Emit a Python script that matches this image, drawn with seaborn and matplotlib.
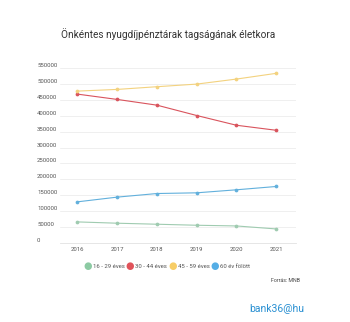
import matplotlib
matplotlib.use("Agg")
import matplotlib.pyplot as plt
import seaborn as sns
import pandas as pd

years = ["2016", "2017", "2018", "2019", "2020", "2021"]
age_16_29 = [66300, 62200, 59000, 55800, 53600, 44200]
age_30_44 = [467900, 451200, 433200, 400700, 370100, 354300]
age_45_59 = [477400, 482700, 491200, 499400, 515200, 533200]
age_60_plus = [129400, 144200, 155500, 157700, 167200, 177600]
series_names = ["16 - 29 éves", "30 - 44 éves", "45 - 59 éves", "60 év fölött"]
y_ticks = [0, 50000, 100000, 150000, 200000, 250000, 300000,
           350000, 400000, 450000, 500000, 550000]

title = "Önkéntes nyugdíjpénztárak tagságának életkora"
source = "Forrás: MNB"
logo = "bank36@hu"

line_colors = ["#9fcbb0", "#d9545d", "#f3d27f", "#62b0dc"]
legend_colors = ["#8ccaa3", "#e0535a", "#f7cd66", "#55aee6"]

df = pd.DataFrame({
    "year": years * 4,
    "value": age_16_29 + age_30_44 + age_45_59 + age_60_plus,
    "group": sum([[n] * len(years) for n in series_names], []),
})

sns.set_theme(style="white")
plt.rcParams["font.family"] = ["Roboto", "DejaVu Sans"]

fig = plt.figure(figsize=(3.5, 3.22), dpi=100)
ax = fig.add_axes([60 / 350, 1 - 243 / 322, 236 / 350, 175 / 322])

sns.lineplot(data=df, x="year", y="value", hue="group", palette=line_colors,
             marker="o", markersize=2.7, markeredgewidth=0, linewidth=0.8,
             legend=False, ax=ax, sort=False)

ax.set_xlim(-0.44, 5.5)
ax.set_ylim(0, 550000)
ax.set_yticks(y_ticks)
ax.set_yticklabels([str(v) for v in y_ticks])
ax.set_xlabel("")
ax.set_ylabel("")
ax.grid(axis="y", color="#ececec", linewidth=0.6)
ax.set_axisbelow(True)
for side in ["top", "right", "left"]:
    ax.spines[side].set_visible(False)
ax.spines["bottom"].set_color("#e2e2e2")
ax.spines["bottom"].set_linewidth(0.6)
ax.tick_params(axis="both", length=0, labelsize=4.3, colors="#555555")
ax.tick_params(axis="y", pad=16.5)
ax.tick_params(axis="x", pad=3)
for lbl in ax.get_yticklabels():
    lbl.set_horizontalalignment("left")
    lbl.set_verticalalignment("bottom")

fig.text(168 / 350, 1 - 34 / 322, title, ha="center", va="center",
         fontsize=7.2, color="#333333")

# legend row under the axis
leg_x = [88, 130, 173, 215]
for x, name, col in zip(leg_x, series_names, legend_colors):
    fig.text(x / 350, 1 - 266 / 322, "●", ha="center", va="center",
             fontsize=7, color=col, family=["DejaVu Sans"])
    fig.text((x + 5) / 350, 1 - 266 / 322, name, ha="left", va="center",
             fontsize=4.3, color="#555555")

fig.text(300 / 350, 1 - 281 / 322, source, ha="right", va="center",
         fontsize=3.8, color="#444444")
fig.text(277 / 350, 1 - 309 / 322, logo, ha="center", va="center",
         fontsize=7.5, color="#2a90d2")

fig.savefig("out.png", dpi=100)
